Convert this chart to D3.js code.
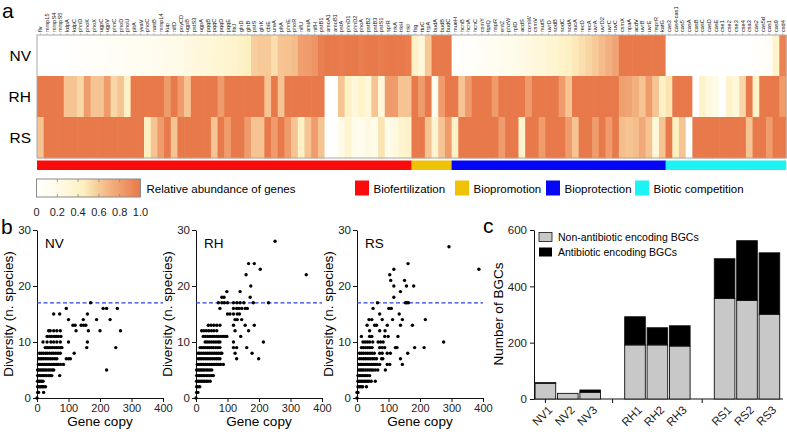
<!DOCTYPE html>
<html><head><meta charset="utf-8">
<script src="https://cdn.jsdelivr.net/npm/d3@7"></script>
<style>
body{margin:0;background:#fff}
svg{display:block}
text{font-family:"Liberation Sans",Arial,Helvetica,sans-serif}
</style>
</head><body>
<svg id="chart" width="787" height="435"></svg>
<script>
// ---------------- DATA ----------------
const genes = [
 "flv","mmpL5","mmpS4","mmpS5","kdpA","kdpC","phnD","phoK","phoX","ugpC","ugpV","phnC","phoD","phoU","pitA","yvaV",
 "phoC","nasB","mmpL4","kup","nifD","poyCD","ugpB","pstS3","ugpA","pqqB","pqqC","pqqD","pqqE","fixJ","glnD","glnB",
 "pstS","glnK","cbiE","ureA","pltA","phnE","phoR","nifU","amiA","nifH","pstB1","amoA1","amoB1","pstA","phnD1","phnD2",
 "phoA","pstB2","pstB3","pstS1","sprR","trkA","trkH","trkI",
 "fsg","ttuC","trpA","budA","budB","budC",
 "mueH","hcnB","hcnA","hcnC","csmY","tqsQ","nspR","entZ","phzW","rplD","acdS","comW","csmV","mutS","uvrD","sodB",
 "sodC","sodA","nucA","recD","recA","uvrA","uvrD2","uvrC","ruvC","csmX","npaA","acdV","uvrB","uvrE","hsprR","katG",
 "cas3","cas4-cas1","cas5","casA","casB","casC","casD","casE","cse1","cse2","cse3","cse4","csa3","cas2","cas5d","cas1","cas9","csd4"
];
const categories = ["Biofertilization","Biopromotion","Bioprotection","Biotic competition"];
const categoryCounts = [56, 6, 32, 18];
const categoryColors = ["#fb0c0c","#efc208","#0606f6","#1ef3f3"];
const heatRows = ["NV","RH","RS"];
const abundNV = [0,0,0,0,
 0.02,0.03,0.04,0.05,0.06,0.07,0.08,0.09,0.10,0.11,
 0.12,0.13,0.14,0.15,0.16,0.18,0.20,0.22,0.24,0.26,
 0.28,0.30,0.32,0.34,0.36,0.38,0.41,0.45,
 0.58,0.60,0.60,0.52,0.62,0.63,0.65,
 0.80,0.82,0.85,
 0.97,1,1,0.98,1,1,0.97,1,1,0.98,1,1,1,0.98,
 0.42,0.30,0.60,
 1,1,1,
 0.02,0.03,0.05,0.07,0.09,0.11,0.13,0.15,0.17,0.20,
 0.22,0.25,0.28,0.30,0.33,0.36,0.40,0.44,0.48,
 0.52,0.56,0.60,0.66,0.72,0.78,
 1,1,1,1,1,1,1,
 0,0,0,0,0,0,0,0,0,0,0,0,0,0.04,0.06,0.08,
 0.38,0.95];
const abundRH = [1,1,1,1,0.62,0.62,0.55,0.82,0.62,0.62,0.82,0.55,0.62,0.42,
 1,1,1,1,1,0.82,1,0.82,0.62,1,1,1,1,0.82,
 1,1,1,1,1,1,0.62,1,0.62,
 1,1,1,1,1,1,0,0,0.62,0.42,0.3,0.38,0.3,0.62,0.3,
 0.82,0.82,0.62,0.62,1,0.82,1,0.15,0.82,1,1,
 0.62,0.82,1,1,1,0.82,1,1,1,1,0.82,
 1,1,1,1,0.82,0.62,
 1,1,1,1,1,1,1,
 0.8,0.78,0.72,0.62,0.82,0.62,0.42,
 0.5,1,1,1,0,0.4,0.25,0.2,0,0.38,0.3,0.55,1,0.4,1,1,1,0.82];
const abundRS = [0.62,1,1,1,1,1,1,1,1,1,1,1,1,1,1,1,
 0.45,0.62,0.82,1,0.62,1,1,1,1,1,0.62,1,0.82,1,1,0.82,
 0.62,0.62,1,0.82,1,0.82,0.62,0.42,0.62,0.82,0.62,
 0,0,0.2,0.35,0.2,0.15,0.25,0.2,0.5,0.2,0.25,0.35,0.4,
 1,1,0.62,0.35,0.62,0.82,0.4,
 1,1,1,1,1,1,0.82,1,1,0.35,1,1,
 0.82,1,1,1,0.82,0.62,1,1,0.82,1,0.82,1,
 0.65,0.62,0.65,0.75,0.62,0.3,0.62,
 1,0.45,0.62,0,1,1,1,1,1,1,1,1,0.62,1,1,0.82,1,1];
const legendTicks = [0, 0.2, 0.4, 0.6, 0.8, 1.0];

// panel b: [gene copy, diversity]
const pointsNV = [
 [0,0],[2,1],[5,1],[21,1],
 [2,2],[6,2],[10,2],[14,2],[18,2],[22,2],[27,2],
 [2,3],[6,3],[10,3],[14,3],[19,3],
 [2,4],[6,4],[10,4],[15,4],[20,4],[25,4],[30,4],[36,4],[41,4],[47,4],[72,4],
 [2,5],[6,5],[11,5],[16,5],[21,5],[26,5],[31,5],[37,5],[42,5],[48,5],[53,5],[221,5],
 [4,6],[9,6],[14,6],[19,6],[24,6],[29,6],[35,6],[40,6],[46,6],[52,6],[57,6],[63,6],[68,6],[75,6],[84,6],
 [5,7],[10,7],[15,7],[20,7],[26,7],[32,7],[38,7],[44,7],[50,7],[57,7],[63,7],[93,7],[100,7],[106,7],
 [8,8],[14,8],[20,8],[27,8],[33,8],[40,8],[47,8],[53,8],[60,8],[67,8],[74,8],[118,8],
 [26,9],[32,9],[38,9],[44,9],[50,9],[56,9],[62,9],[68,9],[74,9],[79,9],[158,9],[250,9],
 [19,10],[32,10],[44,10],[53,10],[63,10],[74,10],[100,10],[160,10],
 [32,11],[40,11],[47,11],[55,11],[61,11],[68,11],[76,11],
 [37,12],[42,12],[53,12],[63,12],[74,12],[124,12],[163,12],[200,12],[265,12],
 [114,13],[121,13],[140,13],[148,13],[155,13],
 [100,14],[147,14],[189,14],[232,14],
 [53,15],[72,15],[160,15],
 [93,16],[210,16],[221,16],[255,16],
 [170,17]
];
const pointsRH = [
 [0,0],[2,1],[6,1],[2,2],[6,2],[12,2],
 [2,3],[7,3],[12,3],[17,3],[22,3],[27,3],[33,3],[38,3],[45,3],
 [2,4],[7,4],[12,4],[17,4],[22,4],[27,4],[33,4],[38,4],[44,4],[50,4],[55,4],
 [2,5],[7,5],[12,5],[17,5],[22,5],[27,5],[33,5],[38,5],[44,5],[50,5],
 [4,6],[9,6],[14,6],[19,6],[24,6],[30,6],[36,6],[42,6],[48,6],[54,6],[60,6],[66,6],[72,6],[78,6],[87,6],
 [7,7],[12,7],[17,7],[23,7],[29,7],[35,7],[41,7],[47,7],[53,7],[59,7],[65,7],[71,7],[76,7],[129,7],[199,7],
 [7,8],[12,8],[18,8],[24,8],[30,8],[36,8],[42,8],[48,8],[54,8],[60,8],[66,8],[72,8],[78,8],[82,8],[124,8],[178,8],
 [13,9],[19,9],[25,9],[31,9],[37,9],[43,9],[49,9],[55,9],[62,9],[69,9],[76,9],[119,9],[129,9],[161,9],
 [29,10],[35,10],[42,10],[49,10],[56,10],[63,10],[70,10],[76,10],[119,10],[214,10],
 [23,11],[30,11],[37,11],[44,11],[51,11],[58,11],[65,11],[72,11],[79,11],[86,11],[92,11],[98,11],[142,11],
 [18,12],[25,12],[33,12],[41,12],[49,12],[57,12],[66,12],[124,12],[167,12],
 [39,13],[48,13],[57,13],[66,13],[76,13],[119,13],[156,13],[185,13],
 [124,14],[131,14],[145,14],
 [100,15],[108,15],[119,15],[131,15],[138,15],
 [76,16],[119,16],[129,16],[136,16],[145,16],[156,16],[163,16],
 [71,17],[82,17],[90,17],[100,17],[119,17],[130,17],[140,17],[152,17],[182,17],[230,17],
 [82,18],[89,18],[172,18],[98,19],[140,19],[174,20],[159,22],[350,22],[204,23],[167,24],[185,24],[251,28]
];
const pointsRS = [
 [0,0],[0,1],[3,1],
 [3,2],[8,2],[13,2],[18,2],[30,2],
 [3,3],[8,3],[13,3],[18,3],[23,3],[28,3],[33,3],[38,3],[45,3],[58,3],
 [3,4],[8,4],[13,4],[18,4],[23,4],[28,4],[33,4],[40,4],
 [6,5],[11,5],[16,5],[21,5],[27,5],[33,5],[39,5],[45,5],[51,5],[58,5],[66,5],[90,5],
 [6,6],[11,6],[16,6],[22,6],[28,6],[34,6],[40,6],[46,6],[52,6],[58,6],[64,6],[72,6],[96,6],[104,6],[144,6],
 [8,7],[14,7],[20,7],[26,7],[32,7],[38,7],[44,7],[50,7],[56,7],[62,7],[78,7],[82,7],[138,7],
 [8,8],[14,8],[20,8],[27,8],[34,8],[41,8],[48,8],[55,8],[72,8],[80,8],[96,8],[106,8],[161,8],
 [14,9],[20,9],[27,9],[34,9],[41,9],[48,9],[72,9],[80,9],[88,9],[122,9],[127,9],[183,9],[213,9],
 [19,10],[26,10],[33,10],[40,10],[50,10],[67,10],[75,10],[83,10],[275,10],
 [14,11],[40,11],[47,11],[88,11],[99,11],[130,11],
 [40,12],[72,12],[89,12],
 [32,13],[56,13],[62,13],[96,13],[138,13],[176,13],
 [38,14],[47,14],[80,14],[113,14],[144,14],[217,14],
 [72,15],[134,15],[51,16],[101,16],[109,16],
 [65,17],[154,17],[158,17],[163,17],
 [117,18],[138,19],[117,20],[157,20],[180,20],[107,21],[151,21],[104,22],[117,23],[387,23],[162,24],[292,27]
];
const scatterXTicks = [0,100,200,300,400];
const scatterYTicks = [0,10,20,30];
const thresholdDiversity = 17;

// panel c
const samples = ["NV1","NV2","NV3","RH1","RH2","RH3","RS1","RS2","RS3"];
const slots = ["NV1","NV2","NV3","gap1","RH1","RH2","RH3","gap2","RS1","RS2","RS3"];
const nonAntibiotic = [56,20,24,192,192,188,357,350,301];
const antibiotic = [2,0,8,100,61,72,141,212,218];
const bgcTicks = [0,200,400,600];
const bgcLegend = ["Non-antibiotic encoding BGCs","Antibiotic encoding BGCs"];

// ---------------- DRAW ----------------
const svg = d3.select("#chart");
const font = '"Liberation Sans",Arial,Helvetica,sans-serif';

// panel letters
svg.append("text").attr("x",2).attr("y",18).attr("font-size",21).text("a");
svg.append("text").attr("x",1).attr("y",234).attr("font-size",21).text("b");
svg.append("text").attr("x",483).attr("y",233).attr("font-size",21).text("c");

// heatmap
const color = d3.scaleLinear()
  .domain([0, 0.2, 0.45, 0.62, 0.82, 1])
  .range(["#ffffff","#fffbe9","#fdf0c0","#f5c492","#ef9b6b","#e8794a"]);
const hx = d3.scaleBand().domain(d3.range(genes.length)).range([37, 786]);
const hy = d3.scaleBand().domain(heatRows).range([35, 158]);
const rowData = {NV: abundNV, RH: abundRH, RS: abundRS};

const hm = svg.append("g");
heatRows.forEach(r => {
  hm.selectAll(null).data(rowData[r]).enter().append("rect")
    .attr("x",(d,i)=>hx(i)).attr("y",hy(r))
    .attr("width",hx.bandwidth()+0.6).attr("height",hy.bandwidth()+0.3)
    .attr("fill",d=>color(d));
  svg.append("text").attr("x",31).attr("y",hy(r)+hy.bandwidth()/2).attr("dy","0.36em")
    .attr("text-anchor","end").attr("font-size",15.5).text(r);
});
svg.append("rect").attr("x",37).attr("y",35).attr("width",749).attr("height",123)
  .attr("fill","none").attr("stroke","#a8a8a8").attr("stroke-width",1);

// gene labels
const gl = svg.append("g");
gl.selectAll("line").data(genes).enter().append("line")
  .attr("x1",(d,i)=>hx(i)+hx.bandwidth()/2).attr("x2",(d,i)=>hx(i)+hx.bandwidth()/2)
  .attr("y1",33).attr("y2",35).attr("stroke","#aaa").attr("stroke-width",0.6);
gl.selectAll("text").data(genes).enter().append("text")
  .attr("transform",(d,i)=>`translate(${hx(i)+hx.bandwidth()/2},32) rotate(-90)`)
  .attr("dy","0.35em").attr("text-anchor","start").attr("font-size",5.6).attr("fill","#111")
  .text(d=>d);

// category bar
let cum = 0;
categoryCounts.forEach((n,k)=>{
  const x0 = hx(cum), x1 = cum+n < genes.length ? hx(cum+n) : 786;
  svg.append("rect").attr("x",x0).attr("y",160.5).attr("width",x1-x0+0.3).attr("height",9.5)
    .attr("fill",categoryColors[k]);
  cum += n;
});

// gradient legend
const lg = svg.append("defs").append("linearGradient").attr("id","grad");
d3.range(0,1.0001,0.05).forEach(t=>lg.append("stop").attr("offset",t).attr("stop-color",color(t)));
const lx = d3.scaleLinear().domain([0,1]).range([36.5,140.5]);
svg.append("rect").attr("x",lx(0)).attr("y",179).attr("width",lx(1)-lx(0)).attr("height",18)
  .attr("fill","url(#grad)").attr("stroke","#8a8a8a").attr("stroke-width",1);
legendTicks.slice(1,-1).forEach(t=>{
  svg.append("line").attr("x1",lx(t)).attr("x2",lx(t)).attr("y1",179).attr("y2",182).attr("stroke","#8a8a8a").attr("stroke-width",0.8);
  svg.append("line").attr("x1",lx(t)).attr("x2",lx(t)).attr("y1",194).attr("y2",197).attr("stroke","#8a8a8a").attr("stroke-width",0.8);
});
svg.selectAll(".lt").data(legendTicks).enter().append("text")
  .attr("x",d=>lx(d)).attr("y",215.5).attr("text-anchor","middle").attr("font-size",11).attr("fill","#222")
  .text(d=>d===0?"0":d.toFixed(1));
svg.append("text").attr("x",146.5).attr("y",192.5).attr("font-size",11.5).text("Relative abundance of genes");

// category legend
const catLegX = [355, 455, 546, 635];
categories.forEach((c,k)=>{
  svg.append("rect").attr("x",catLegX[k]).attr("y",180.5).attr("width",14).attr("height",15).attr("fill",categoryColors[k]);
  svg.append("text").attr("x",catLegX[k]+18.5).attr("y",192.5).attr("font-size",11.5).text(c);
});

// panel b scatters
function styleAxis(g, fs){
  g.attr("font-family",font).attr("font-size",fs);
  g.selectAll(".domain").attr("stroke","#111").attr("stroke-width",1);
  g.selectAll(".tick line").attr("stroke","#111").attr("stroke-width",1);
  g.selectAll(".tick text").attr("fill","#222");
}
function scatter(x0, name, pts){
  const xs = d3.scaleLinear().domain([0,400]).range([x0, x0+126]);
  const ys = d3.scaleLinear().domain([0,30]).range([398, 230]);
  const gx = svg.append("g").attr("transform","translate(0,398)")
    .call(d3.axisBottom(xs).tickValues(scatterXTicks).tickSize(4).tickSizeOuter(0).tickPadding(2));
  styleAxis(gx, 11);
  const gy = svg.append("g").attr("transform",`translate(${x0},0)`)
    .call(d3.axisLeft(ys).tickValues(scatterYTicks).tickSize(4).tickSizeOuter(0).tickPadding(2));
  styleAxis(gy, 11.5);
  svg.append("line").attr("x1",xs(0)).attr("x2",xs(400)).attr("y1",ys(thresholdDiversity)).attr("y2",ys(thresholdDiversity))
    .attr("stroke","#2e3fe6").attr("stroke-width",1.2).attr("stroke-dasharray","4,2.5");
  svg.append("g").selectAll("circle").data(pts).enter().append("circle")
    .attr("cx",d=>xs(d[0])).attr("cy",d=>ys(d[1])).attr("r",1.7).attr("fill","#000");
  svg.append("text").attr("x",x0+8).attr("y",248).attr("font-size",13.5).text(name);
  svg.append("text").attr("x",x0+63).attr("y",426).attr("text-anchor","middle").attr("font-size",13.5).text("Gene copy");
  svg.append("text").attr("transform",`translate(${x0-29},314) rotate(-90)`).attr("dy","0.35em")
    .attr("text-anchor","middle").attr("font-size",13.5).text("Diversity (n. species)");
}
scatter(37, "NV", pointsNV);
scatter(196, "RH", pointsRH);
scatter(357, "RS", pointsRS);

// panel c bars
const bx = d3.scaleBand().domain(slots).range([534.2, 780.6]).paddingInner(0.08).paddingOuter(0.04);
const by = d3.scaleLinear().domain([0,600]).range([399, 230]);
const gyc = svg.append("g").attr("transform","translate(534,0)")
  .call(d3.axisLeft(by).tickValues(bgcTicks).tickSize(4).tickSizeOuter(0).tickPadding(3));
styleAxis(gyc, 11.5);
svg.append("line").attr("x1",534).attr("x2",783).attr("y1",399).attr("y2",399).attr("stroke","#111");
[bx("NV1")+bx.bandwidth()/2, bx("gap1")+bx.bandwidth()/2, bx("gap2")+bx.bandwidth()/2].forEach(t=>{
  svg.append("line").attr("x1",t).attr("x2",t).attr("y1",399).attr("y2",403).attr("stroke","#111");
});
samples.forEach((s,i)=>{
  const x = bx(s), w = bx.bandwidth();
  svg.append("rect").attr("x",x).attr("y",by(nonAntibiotic[i])).attr("width",w)
    .attr("height",by(0)-by(nonAntibiotic[i])).attr("fill","#c8c8c8").attr("stroke","#111").attr("stroke-width",0.9);
  if (antibiotic[i] > 0) {
    svg.append("rect").attr("x",x).attr("y",by(nonAntibiotic[i]+antibiotic[i])).attr("width",w)
      .attr("height",by(nonAntibiotic[i])-by(nonAntibiotic[i]+antibiotic[i])).attr("fill","#000").attr("stroke","#111").attr("stroke-width",0.9);
  }
  svg.append("text").attr("transform",`translate(${x+w/2+2},405) rotate(-45)`).attr("dy","0.7em")
    .attr("text-anchor","end").attr("font-size",11.5).attr("fill","#222").text(s);
});
svg.append("text").attr("transform","translate(498,314) rotate(-90)").attr("dy","0.35em")
  .attr("text-anchor","middle").attr("font-size",13.5).text("Number of BGCs");
// legend c
svg.append("rect").attr("x",539).attr("y",232.5).attr("width",13).attr("height",9).attr("fill","#c8c8c8").attr("stroke","#111").attr("stroke-width",0.8);
svg.append("rect").attr("x",539).attr("y",247.5).attr("width",13).attr("height",9).attr("fill","#000");
svg.append("text").attr("x",558).attr("y",241).attr("font-size",10.5).text(bgcLegend[0]);
svg.append("text").attr("x",558).attr("y",256).attr("font-size",10.5).text(bgcLegend[1]);
</script>
</body></html>
